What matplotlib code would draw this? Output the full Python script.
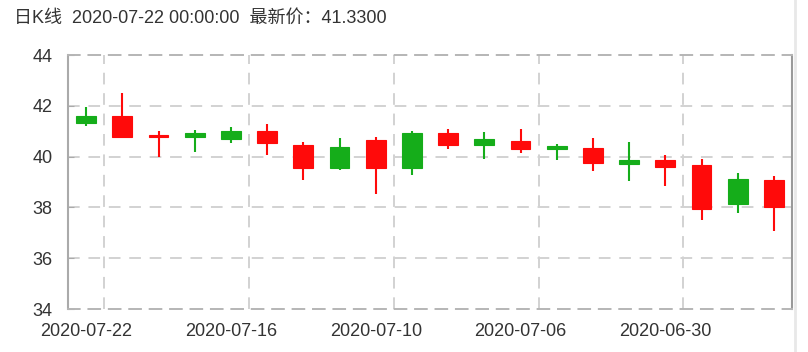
import numpy as np
import matplotlib.pyplot as plt

dates = ["2020-07-22", "2020-07-21", "2020-07-20", "2020-07-17", "2020-07-16",
         "2020-07-15", "2020-07-14", "2020-07-13", "2020-07-10", "2020-07-09",
         "2020-07-08", "2020-07-07", "2020-07-06", "2020-07-03", "2020-07-02",
         "2020-07-01", "2020-06-30", "2020-06-29", "2020-06-24", "2020-06-23"]
opens = [41.58, 40.78, 40.76, 40.93, 41.01, 40.52, 39.56, 40.38, 39.55, 40.92,
         40.46, 40.71, 40.29, 40.40, 39.76, 39.87, 39.60, 37.93, 39.11, 38.02]
closes = [41.33, 41.61, 40.84, 40.76, 40.69, 41.02, 40.47, 39.56, 40.64, 39.55,
          40.92, 40.47, 40.61, 40.31, 40.33, 39.69, 39.85, 39.66, 38.12, 39.07]
highs = [41.94, 42.52, 41.02, 41.05, 41.18, 41.27, 40.57, 40.72, 40.77, 41.00,
         41.09, 40.96, 41.07, 40.50, 40.73, 40.57, 40.07, 39.89, 39.34, 39.22]
lows = [41.22, 40.74, 39.97, 40.18, 40.52, 40.07, 39.07, 39.47, 38.54, 39.26,
        40.30, 39.89, 40.15, 39.85, 39.45, 39.05, 38.84, 37.49, 37.79, 37.07]

up_color = '#ff0a0a'
down_color = '#15ad1a'
grid_dash = (0, (6, 4.5))

fig = plt.figure(figsize=(8.08, 3.52), dpi=100)
ax = fig.add_axes([68 / 808, 43 / 352, 724 / 808, 254 / 352])

x = np.arange(len(dates))
o = np.array(opens)
c = np.array(closes)
colors = [up_color if cc >= oo else down_color for oo, cc in zip(o, c)]

ax.vlines(x, lows, highs, colors=colors, linewidth=1.5, zorder=2)
ax.bar(x, np.maximum(np.abs(c - o), 0.05), bottom=np.minimum(o, c), width=0.55,
       color=colors, edgecolor=colors, linewidth=0.8, zorder=3)

ax.set_xlim(-0.5, len(dates) - 0.5)
ax.set_ylim(34, 44)
ax.set_yticks([34, 36, 38, 40, 42, 44])

# grid
for gy in [36, 38, 40, 42]:
    ax.axhline(gy, color='#d2d2d2', linestyle=grid_dash, linewidth=1.4, zorder=1)
for gx in np.arange(0.5, len(dates), 4):
    ax.axvline(gx, color='#d2d2d2', linestyle=grid_dash, linewidth=1.4, zorder=1)

ax.set_xticks(x[::4])
ax.set_xticklabels(dates[::4])
ax.tick_params(axis='x', length=0, pad=10, labelsize=13, labelcolor='#333333')
ax.tick_params(axis='y', direction='in', length=4, color='#aaaaaa', pad=11,
               labelsize=13, labelcolor='#333333')
for lab in ax.get_xticklabels() + ax.get_yticklabels():
    lab.set_family('Liberation Sans')

for s in ['top', 'bottom']:
    ax.spines[s].set_linestyle(grid_dash)
    ax.spines[s].set_color('#b5b5b5')
    ax.spines[s].set_linewidth(1.4)
ax.spines['left'].set_color('#aaaaaa')
ax.spines['left'].set_linewidth(1.5)
ax.spines['right'].set_color('#999999')
ax.spines['right'].set_linewidth(1.5)

fig.text(14 / 808, 1 - 18 / 352,
         "日K线  " + dates[0] + " 00:00:00  最新价：" + "%.4f" % closes[0],
         family=['Liberation Sans', 'Noto Sans CJK SC'], fontsize=13,
         color='#333333', va='center', ha='left')

# page edge line on the right
fig.add_artist(plt.Line2D([795 / 808, 795 / 808], [0, 1], color='#e8e8e8',
                          linewidth=2, transform=fig.transFigure))

plt.savefig('out.png', dpi=100)
